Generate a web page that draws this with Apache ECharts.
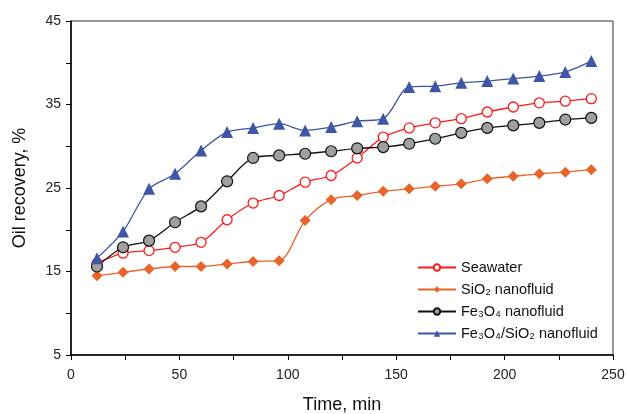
<!DOCTYPE html>
<html lang="en">
  <head>
    <meta charset="UTF-8" />
    <title>Oil recovery</title>
    <style>
      html, body { margin: 0; padding: 0; background: #fff; }
    </style>
  </head>
  <body>
    <div id="main" style="width: 627px; height: 414px"></div>
    <script src="https://cdn.jsdelivr.net/npm/echarts@6.0.0/dist/echarts.min.js"></script>
    <script>
      // time in minutes
      const times = [12, 24, 36, 48, 60, 72, 84, 96, 108, 120, 132, 144, 156, 168, 180, 192, 204, 216, 228, 240];

      const seawater = [16.0, 17.2, 17.5, 17.9, 18.5, 21.2, 23.2, 24.1, 25.7, 26.5, 28.6, 31.1, 32.2, 32.8, 33.3, 34.1, 34.7, 35.2, 35.4, 35.7];
      const sio2 = [14.5, 14.9, 15.3, 15.6, 15.6, 15.9, 16.2, 16.3, 21.1, 23.6, 24.1, 24.6, 24.9, 25.2, 25.5, 26.1, 26.4, 26.7, 26.9, 27.2];
      const fe3o4 = [15.6, 17.9, 18.7, 20.9, 22.8, 25.8, 28.6, 28.9, 29.1, 29.4, 29.75, 29.9, 30.3, 30.9, 31.6, 32.2, 32.5, 32.8, 33.2, 33.4];
      const fe3o4sio2 = [16.6, 19.8, 24.9, 26.7, 29.5, 31.7, 32.2, 32.7, 31.9, 32.3, 33.0, 33.3, 37.1, 37.2, 37.6, 37.8, 38.1, 38.4, 38.9, 40.2];

      function pairs(vals) {
        return times.map((t, i) => [t, vals[i]]);
      }

      var chartDom = document.getElementById("main");
      var myChart = echarts.init(chartDom);
      var font = "Liberation Sans, Arial, sans-serif";

      myChart.setOption({
        animation: false,
        textStyle: { fontFamily: font },
        grid: {
          left: 71,
          right: 14,
          top: 21,
          bottom: 59,
          outerBoundsMode: "none",
          show: true,
          borderColor: "#333",
          borderWidth: 1,
        },
        legend: {
          orient: "vertical",
          left: 412,
          top: 255,
          itemWidth: 38,
          itemHeight: 8,
          itemGap: 7,
          textStyle: { fontSize: 14.5, color: "#111", fontFamily: font },
          data: ["Seawater", "SiO₂ nanofluid", "Fe₃O₄ nanofluid", "Fe₃O₄/SiO₂ nanofluid"],
        },
        xAxis: {
          type: "value",
          min: 0,
          max: 250,
          interval: 25,
          name: "Time, min",
          nameLocation: "middle",
          nameGap: 41,
          nameTextStyle: { fontSize: 18, color: "#111" },
          axisLine: { lineStyle: { color: "#000", width: 1.5 } },
          axisTick: { length: 5, lineStyle: { color: "#000" } },
          axisLabel: {
            fontSize: 14,
            color: "#222",
            margin: 13,
            formatter: (v) => (v % 50 === 0 ? v : ""),
          },
          splitLine: { show: false },
        },
        yAxis: {
          type: "value",
          min: 5,
          max: 45,
          interval: 5,
          name: "Oil recovery, %",
          nameLocation: "middle",
          nameGap: 42,
          nameTextStyle: { fontSize: 18, color: "#111" },
          axisLine: { show: true, lineStyle: { color: "#000", width: 1.5 } },
          axisTick: { show: true, length: 5, lineStyle: { color: "#000" } },
          axisLabel: {
            fontSize: 14,
            color: "#222",
            margin: 10,
            formatter: (v) => ((v - 5) % 10 === 0 ? v : ""),
          },
          splitLine: { show: false },
        },
        series: [
          {
            name: "Seawater",
            type: "line",
            smooth: 0.3,
            data: pairs(seawater),
            symbol: "circle",
            symbolSize: 10,
            lineStyle: { color: "#ff1a1a", width: 1.3 },
            itemStyle: { color: "#fff", borderColor: "#ff1a1a", borderWidth: 1.3 },
            z: 3,
          },
          {
            name: "SiO₂ nanofluid",
            type: "line",
            smooth: 0.3,
            data: pairs(sio2),
            symbol: "diamond",
            symbolSize: 11,
            lineStyle: { color: "#e8642a", width: 1.3 },
            itemStyle: { color: "#e8642a" },
            z: 2,
          },
          {
            name: "Fe₃O₄ nanofluid",
            type: "line",
            smooth: 0.3,
            data: pairs(fe3o4),
            symbol: "circle",
            symbolSize: 11,
            lineStyle: { color: "#111", width: 1.3 },
            itemStyle: { color: "#a0a0a0", borderColor: "#111", borderWidth: 1.2 },
            z: 4,
          },
          {
            name: "Fe₃O₄/SiO₂ nanofluid",
            type: "line",
            smooth: 0.3,
            data: pairs(fe3o4sio2),
            symbol: "triangle",
            symbolSize: 12,
            lineStyle: { color: "#3f55a5", width: 1.3 },
            itemStyle: { color: "#3f55a5" },
            z: 5,
          },
        ],
      });
    </script>
  </body>
</html>
